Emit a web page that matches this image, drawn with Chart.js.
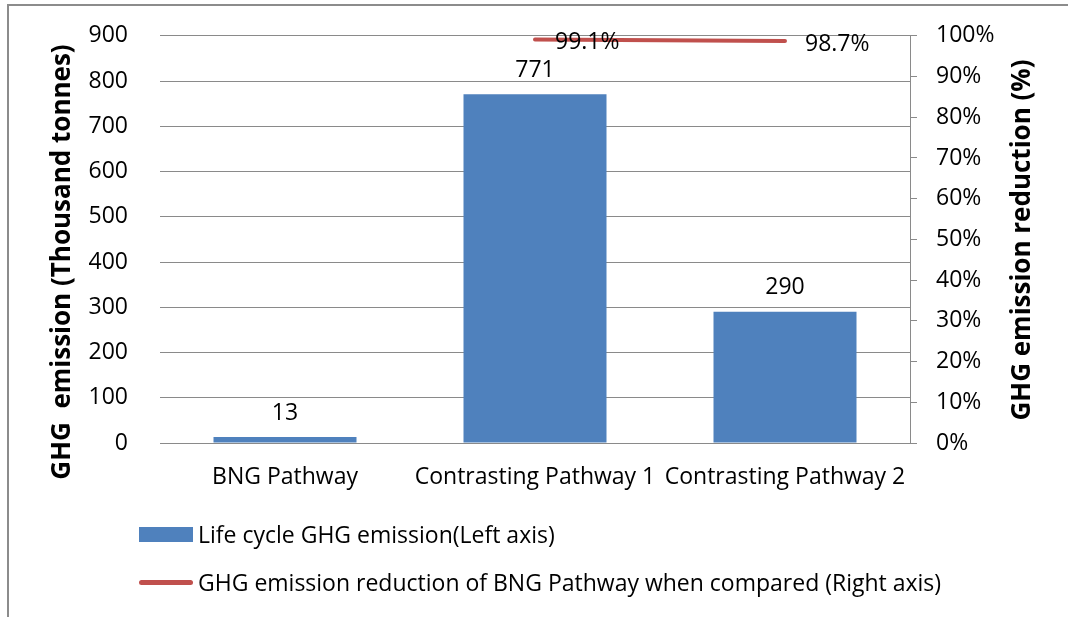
<!DOCTYPE html>
<html>
<head>
<meta charset="utf-8">
<script src="https://cdn.jsdelivr.net/npm/chart.js@4.4.1/dist/chart.umd.min.js"></script>
<style>
  body { margin: 0; background: #fff; }
  #wrap { position: relative; width: 1068px; height: 617px; overflow: hidden; font-family: 'Open Sans', sans-serif; }
  #frame { position: absolute; left: 7px; top: 4px; width: 1100px; height: 700px; border: 2px solid #8c8c8c; box-sizing: border-box; }
  #chart { position: absolute; left: 0; top: -10px; }
  #legend { position: absolute; left: 139px; top: 520px; font-size: 23px; color: #000; }
  .item { display: flex; align-items: center; height: 28px; margin-bottom: 20px; }
  .sw { display: inline-block; width: 54px; margin-right: 5px; }
</style>
</head>
<body>
<div id="wrap">
  <div id="frame"></div>
  <canvas id="chart" width="1068" height="627"></canvas>
  <div id="legend"></div>
</div>
<script>
const categories = ['BNG Pathway', 'Contrasting Pathway 1', 'Contrasting Pathway 2'];
const emission = [13, 771, 290];            // thousand tonnes, left axis
const reduction = [null, 99.1, 98.7];       // %, right axis
const leftTicks = [0, 100, 200, 300, 400, 500, 600, 700, 800, 900];
const rightTicks = [0, 10, 20, 30, 40, 50, 60, 70, 80, 90, 100];

const barColor = '#4f81bd';
const lineColor = '#c0504d';
const gridColor = '#8a8a8a';
const tickFont = { family: 'Open Sans', size: 23 };

// value labels and rotated axis titles (canvas sits 10px above the page top)
const extras = {
  id: 'extras',
  afterDatasetsDraw(chart) {
    const ctx = chart.ctx;
    ctx.save();
    ctx.fillStyle = '#000';
    ctx.font = '23px "Open Sans"';
    ctx.textAlign = 'center';
    ctx.textBaseline = 'middle';
    chart.getDatasetMeta(1).data.forEach((el, i) => {
      ctx.fillText(String(emission[i]), el.x, el.y - 24);
    });
    ctx.textAlign = 'left';
    chart.getDatasetMeta(0).data.forEach((el, i) => {
      if (reduction[i] == null) return;
      ctx.fillText(reduction[i].toFixed(1) + '%', el.x + 20, el.y + 3);
    });
    ctx.font = 'bold 26px "Open Sans"';
    ctx.textAlign = 'center';
    ctx.translate(63, 272);
    ctx.rotate(-Math.PI / 2);
    ctx.fillText('GHG  emission (Thousand tonnes)', 0, 0);
    ctx.restore();
    ctx.save();
    ctx.fillStyle = '#000';
    ctx.font = 'bold 26px "Open Sans"';
    ctx.textAlign = 'center';
    ctx.textBaseline = 'middle';
    ctx.translate(1023, 250);
    ctx.rotate(-Math.PI / 2);
    ctx.fillText('GHG emission reduction (%)', 0, 0);
    ctx.restore();
  }
};

const chart = new Chart(document.getElementById('chart'), {
  data: {
    labels: categories,
    datasets: [
      {
        type: 'line',
        label: 'GHG emission reduction of BNG Pathway when compared (Right axis)',
        data: reduction,
        yAxisID: 'y1',
        borderColor: lineColor,
        backgroundColor: lineColor,
        borderWidth: 4,
        borderCapStyle: 'round',
        pointRadius: 0,
        order: 0
      },
      {
        type: 'bar',
        label: 'Life cycle GHG emission(Left axis)',
        data: emission,
        yAxisID: 'y',
        backgroundColor: barColor,
        categoryPercentage: 1,
        barPercentage: 0.572,
        order: 1
      }
    ]
  },
  options: {
    responsive: false,
    animation: false,
    layout: { padding: { top: 14, left: 0, right: 0, bottom: 0 } },
    plugins: { legend: { display: false }, tooltip: { enabled: false } },
    scales: {
      x: {
        grid: { display: false },
        border: { display: false },
        ticks: { color: '#000', font: tickFont, padding: 13, maxRotation: 0, autoSkip: false },
        afterFit(s) { s.height = 627 - 453; }
      },
      y: {
        position: 'left',
        min: 0, max: 900,
        afterBuildTicks(s) { s.ticks = leftTicks.map(v => ({ value: v })); },
        grid: { color: gridColor, lineWidth: 1, drawTicks: false },
        border: { display: false },
        ticks: { color: '#000', font: tickFont, padding: 32 },
        afterFit(s) { s.width = 160; }
      },
      y1: {
        position: 'right',
        min: 0, max: 100,
        afterBuildTicks(s) { s.ticks = rightTicks.map(v => ({ value: v })); },
        grid: { drawOnChartArea: false, color: gridColor, tickLength: 7 },
        border: { display: true, color: gridColor, width: 1 },
        ticks: { color: '#000', font: tickFont, padding: 19, callback: v => v + '%' },
        afterFit(s) { s.width = 1068 - 910; }
      }
    }
  },
  plugins: [extras]
});

// legend below the plot, built from the datasets
const legend = document.getElementById('legend');
[chart.data.datasets[1], chart.data.datasets[0]].forEach(ds => {
  const item = document.createElement('div');
  item.className = 'item';
  const sw = document.createElement('span');
  sw.className = 'sw';
  if (ds.type === 'bar') {
    sw.style.height = '15px';
    sw.style.background = ds.backgroundColor;
  } else {
    sw.style.height = '5px';
    sw.style.borderRadius = '3px';
    sw.style.background = ds.borderColor;
  }
  const txt = document.createElement('span');
  txt.textContent = ds.label;
  item.appendChild(sw);
  item.appendChild(txt);
  legend.appendChild(item);
});
</script>
</body>
</html>
